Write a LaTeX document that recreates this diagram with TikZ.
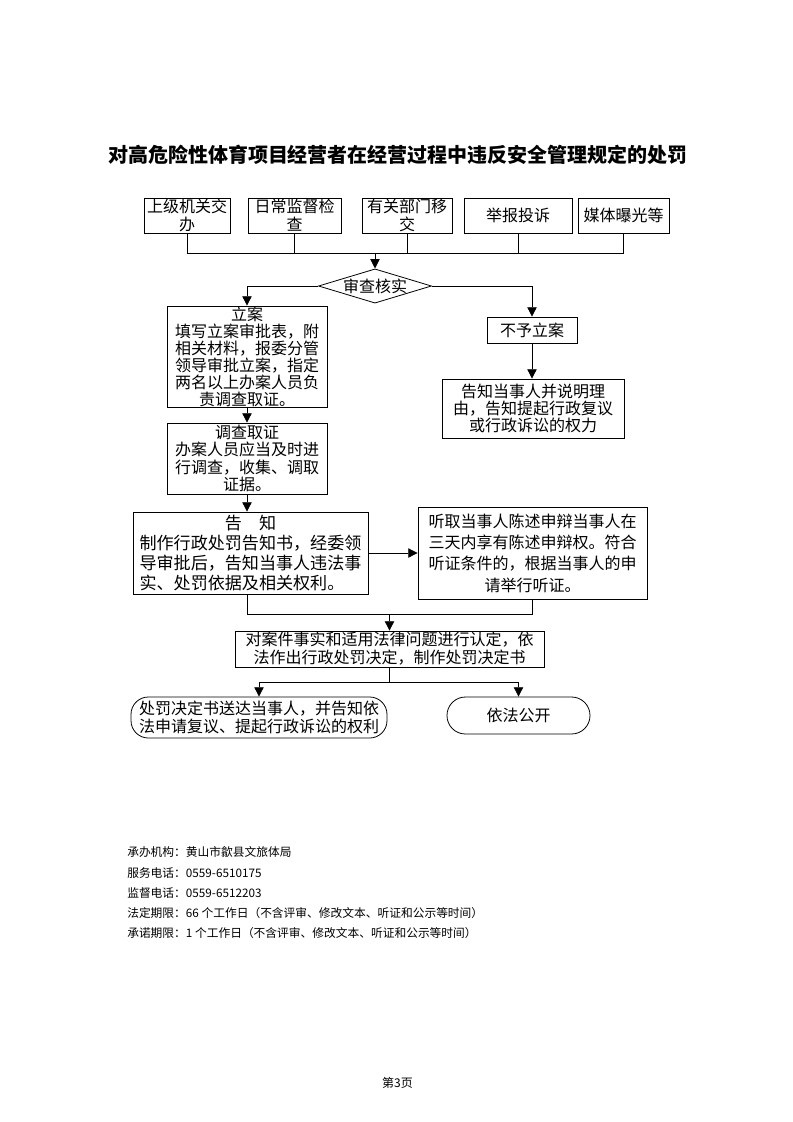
\documentclass[tikz,border=0pt]{standalone}
\usepackage{fontspec}
\setmainfont{Noto Sans CJK SC}
\usetikzlibrary{arrows.meta,shapes.geometric}
\newdimen\PX \PX=0.75pt
\begin{document}
\begin{tikzpicture}[x=0.75pt,y=-0.75pt,
  box/.style={draw, line width=0.6pt, inner sep=0pt, align=center, font=\fontsize{12}{13}\selectfont},
  arr/.style={-{Triangle[length=7pt,width=7pt]}, line width=0.6pt},
  ln/.style={line width=0.6pt},
  foot/.style={anchor=west, inner sep=0pt, font=\fontsize{8.8}{10}\selectfont}]
\useasboundingbox (0,0) rectangle (793,1122);

\node (title) at (398,155) {\fontsize{15}{18}\selectfont\bfseries 对高危险性体育项目经营者在经营过程中违反安全管理规定的处罚};

% top sources
\node[box, minimum width=86\PX, minimum height=35\PX, font=\fontsize{12}{13.5}\selectfont] (b1) at (187,215.5) {上级机关交\\办};
\node[box, minimum width=93\PX, minimum height=35\PX, font=\fontsize{12}{13.5}\selectfont] (b2) at (294.5,215.5) {日常监督检\\查};
\node[box, minimum width=90\PX, minimum height=35\PX, font=\fontsize{12}{13.5}\selectfont] (b3) at (407,215.5) {有关部门移\\交};
\node[box, minimum width=108\PX, minimum height=35\PX] (b4) at (518,215.5) {举报投诉};
\node[box, minimum width=91\PX, minimum height=35\PX] (b5) at (623.5,215.5) {媒体曝光等};

% review
\node[draw, diamond, aspect=3.3, inner sep=0pt, line width=0.6pt, minimum width=111\PX, minimum height=34\PX, font=\fontsize{12}{13}\selectfont] (dia) at (375,286) {审查核实};

% left column
\node[box, minimum width=160\PX, minimum height=101\PX, font=\fontsize{12}{12.75}\selectfont] (la) at (247,356.5) {立案\\填写立案审批表，附\\相关材料，报委分管\\领导审批立案，指定\\两名以上办案人员负\\责调查取证。};
\node[box, minimum width=160\PX, minimum height=71\PX, font=\fontsize{12}{13}\selectfont] (dc) at (247,458.5) {调查取证\\办案人员应当及时进\\行调查，收集、调取\\证据。};
\node[box, align=left, minimum width=235\PX, minimum height=82\PX, font=\fontsize{12.8}{15}\selectfont] (gz) at (250.5,553) {\makebox[13em]{告\hspace{1em}知}\\制作行政处罚告知书，经委领\\导审批后，告知当事人违法事\\实、处罚依据及相关权利。};
\node[box, minimum width=229\PX, minimum height=92\PX, font=\fontsize{12}{16}\selectfont] (tq) at (532.5,553) {听取当事人陈述申辩当事人在\\三天内享有陈述申辩权。符合\\听证条件的，根据当事人的申\\请举行听证。};

% right column
\node[box, minimum width=90\PX, minimum height=26\PX] (bu) at (532,330) {不予立案};
\node[box, minimum width=182\PX, minimum height=59\PX, font=\fontsize{12}{13}\selectfont] (gzd) at (533,408.5) {告知当事人并说明理\\由，告知提起行政复议\\或行政诉讼的权力};

% decision
\node[box, minimum width=309\PX, minimum height=36\PX, font=\fontsize{12}{13.5}\selectfont] (jd) at (389.5,649) {对案件事实和适用法律问题进行认定，依\\法作出行政处罚决定，制作处罚决定书};

% results
\node[box, rounded corners=13pt, minimum width=256\PX, minimum height=41\PX, font=\fontsize{12}{13.5}\selectfont] (sd) at (259,717.5) {处罚决定书送达当事人，并告知依\\法申请复议、提起行政诉讼的权利};
\node[box, rounded corners=13.8pt, minimum width=143\PX, minimum height=37\PX] (gk) at (518.5,715.5) {依法公开};

% connectors
\coordinate (busY) at (0,253);
\coordinate (mergeY) at (0,614);
\coordinate (splitY) at (0,682);
\draw[ln] (b1.south) |- (b5.south |- busY) -- (b5.south);
\foreach \n in {b2,b3,b4} \draw[ln] (\n.south) -- (\n.south |- busY);
\draw[arr] (dia.north |- busY) -- (dia.north);
\draw[arr] (dia.west) -| (la.north);
\draw[arr] (dia.east) -| (bu.north);
\draw[arr] (la.south) -- (dc.north);
\draw[arr] (dc.south) -- (dc.south |- gz.north);
\draw[arr] (gz.east) -- (tq.west);
\draw[arr] (bu.south) -- (bu.south |- gzd.north);
\draw[ln] (dc.south |- gz.south) |- (tq.south |- mergeY) -- (tq.south);
\draw[arr] (jd.north |- mergeY) -- (jd.north);
\draw[ln] (jd.south) -- (jd.south |- splitY);
\draw[arr] (jd.south |- splitY) -| (sd.north);
\draw[arr] (jd.south |- splitY) -| (gk.north);

% footer
\node[foot] (f1) at (127,852) {承办机构：黄山市歙县文旅体局};
\node[foot] (f2) at (127,873) {服务电话：0559-6510175};
\node[foot] (f3) at (127,893) {监督电话：0559-6512203};
\node[foot] (f4) at (127,913) {法定期限：66 个工作日（不含评审、修改文本、听证和公示等时间）};
\node[foot] (f5) at (127,933) {承诺期限：1 个工作日（不含评审、修改文本、听证和公示等时间）};
\node (pg) at (397.5,1083) {\fontsize{9}{10}\selectfont 第3页};
\end{tikzpicture}
\end{document}
